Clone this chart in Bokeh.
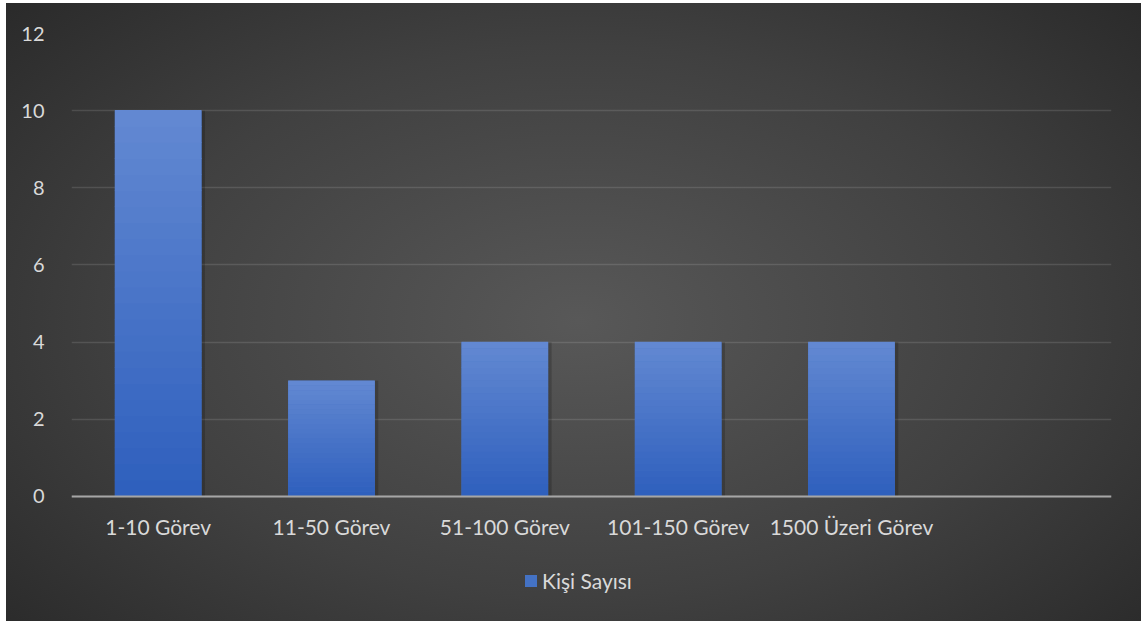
from bokeh.plotting import figure
from bokeh.models import FactorRange, Range1d, Legend, LegendItem, ColumnDataSource
from bokeh.transform import dodge
from bokeh.embed import file_html
from bokeh.resources import INLINE

categories = ["1-10 Görev", "11-50 Görev", "51-100 Görev", "101-150 Görev", "1500 Üzeri Görev", " "]
series_name = "Kişi Sayısı"
values = [10, 3, 4, 4, 4]
y_ticks = [0, 2, 4, 6, 8, 10, 12]

FONT = "Lato"
TEXT = "#d9d9d9"

p = figure(
    x_range=FactorRange(*categories, range_padding=0),
    y_range=Range1d(-3.24, 12),
    frame_width=1040, frame_height=588,
    min_border_left=65, min_border_right=30, min_border_top=30, min_border_bottom=0,
    output_backend="svg", toolbar_location=None,
)
p.margin = (3, 0, 0, 6)
p.styles = {"background": "radial-gradient(ellipse 820px 500px at 572px 318px, #585858 0%, #404040 55%, #272727 100%)"}
p.background_fill_alpha = 0
p.border_fill_alpha = 0
p.outline_line_color = None

bar_cats = categories[:len(values)]
src = ColumnDataSource(dict(x=bar_cats, top=values))

# soft shadow
p.vbar(x=dodge("x", 0.02, range=p.x_range), top="top", width=0.5, source=src,
       fill_color="black", fill_alpha=0.18, line_color=None)
base = p.vbar(x="x", top="top", width=0.5, source=src, fill_color="#4472C4", line_color=None)

# gradient overlay (light top -> dark bottom)
N = 24
c_top = (0x63, 0x89, 0xD2)
c_bot = (0x2E, 0x5F, 0xBD)
for i in range(N):
    f0, f1 = i / N, (i + 1) / N
    t = (f0 + f1) / 2
    col = tuple(int(round(c_bot[k] + (c_top[k] - c_bot[k]) * t)) for k in range(3))
    p.vbar(x=bar_cats, bottom=[v * f0 for v in values], top=[v * f1 + v * 0.002 for v in values],
           width=0.5, fill_color="#%02x%02x%02x" % col, line_color=None)

p.xgrid.grid_line_color = None
p.ygrid.grid_line_color = "#ffffff"
p.ygrid.grid_line_alpha = 0.12
p.ygrid.grid_line_width = 1.5

p.yaxis.ticker = y_ticks
p.yaxis.axis_line_color = None
p.yaxis.major_tick_line_color = None
p.yaxis.minor_tick_line_color = None
p.yaxis.major_label_standoff = 21
p.yaxis.major_label_text_font = FONT
p.yaxis.major_label_text_font_size = "20px"
p.yaxis.major_label_text_color = TEXT

p.xaxis.fixed_location = 0
p.xaxis.axis_line_color = "#a6a6a6"
p.xaxis.axis_line_width = 2
p.xaxis.major_tick_line_color = None
p.xaxis.minor_tick_line_color = None
p.xaxis.major_label_standoff = 12
p.xaxis.major_label_text_font = FONT
p.xaxis.major_label_text_font_size = "21px"
p.xaxis.major_label_text_color = TEXT

legend = Legend(items=[LegendItem(label=series_name, renderers=[base])],
                location=(452, 28), orientation="horizontal",
                background_fill_alpha=0, border_line_color=None,
                label_text_font=FONT, label_text_font_size="21px", label_text_color=TEXT,
                glyph_width=15, glyph_height=15, label_standoff=4, padding=0, margin=0)
p.add_layout(legend, "center")

open("out.html", "w").write(file_html(p, INLINE))
